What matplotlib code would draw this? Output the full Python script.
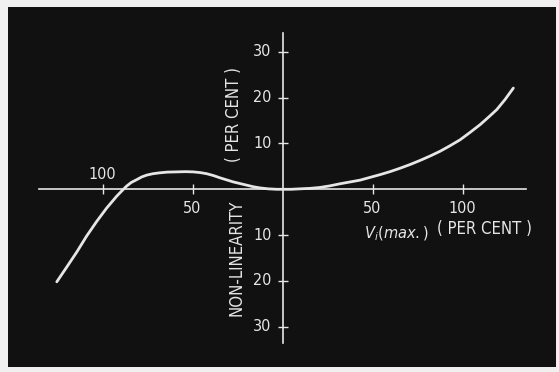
import matplotlib
matplotlib.use("Agg")
import matplotlib.pyplot as plt

# Curve (input in per cent of V_i(max), non-linearity in per cent)
curve_x = [-125.4, -119.9, -114.3, -108.8, -103.2, -97.7, -92.1, -89.4, -86.6,
           -84.0, -81.0, -78.2, -75.4, -72.0, -68.1, -64.0, -58.8, -54.0, -49.6,
           -45.8, -42.1, -38.4, -34.7, -31.0, -27.3, -23.6, -19.9, -16.2, -12.5,
           -8.0, -3.2, 0.0, 4.8, 9.7, 15.2, 20.8, 26.3, 31.9, 37.5, 43.1, 48.6,
           54.2, 59.7, 65.3, 70.8, 76.4, 81.9, 87.5, 93.0, 98.6, 104.1, 109.7,
           114.3, 119.0, 123.6, 128.2]
curve_y = [-20.2, -17.0, -13.7, -10.2, -7.0, -4.1, -1.5, -0.4, 0.7,
           1.5, 2.1, 2.7, 3.1, 3.4, 3.6, 3.75, 3.8, 3.85, 3.8,
           3.65, 3.4, 3.0, 2.5, 2.05, 1.6, 1.25, 0.9, 0.55, 0.3,
           0.1, 0.0, 0.0, 0.0, 0.1, 0.2, 0.4, 0.75, 1.2, 1.6, 2.0, 2.6,
           3.2, 3.85, 4.6, 5.4, 6.3, 7.25, 8.3, 9.5, 10.8, 12.4, 14.1,
           15.7, 17.4, 19.6, 22.1]

y_ticks = [-30, -20, -10, 10, 20, 30]
x_ticks = [-100, -50, 50, 100]
x_label_above = [-100]          # tick labels drawn above the axis

FG = "#e6e6e6"
BG = "#111111"

fig = plt.figure(figsize=(5.59, 3.72), dpi=100, facecolor="#f0f0f0")
W, H = 559, 372
ax = fig.add_axes([8 / W, 5 / H, (556 - 8) / W, (367 - 7) / H])
ax.set_facecolor(BG)
ax.set_xlim(-152.5, 151.9)
ax.set_ylim(-38.8, 39.8)

for s in ["top", "right"]:
    ax.spines[s].set_visible(False)
ax.spines["left"].set_position(("data", 0))
ax.spines["bottom"].set_position(("data", 0))
ax.spines["left"].set_bounds(-33.6, 34.2)
ax.spines["bottom"].set_bounds(-135.3, 135.3)
for s in ["left", "bottom"]:
    ax.spines[s].set_color(FG)
    ax.spines[s].set_linewidth(1.2)

ax.set_yticks(y_ticks)
ax.set_xticks(x_ticks)
ax.tick_params(axis="both", direction="inout", length=7, width=1.0, color=FG,
               labelleft=False, labelbottom=False)

font = dict(color=FG, family="DejaVu Sans", fontstretch="condensed",
            fontsize=11.5)
lab = dict(font, fontsize=12)

for v in y_ticks:
    ax.text(-6.0, v, str(abs(v)), ha="right", va="center", **font)
for v in x_ticks:
    yy = 3.2 if v in x_label_above else -4.2
    ax.text(v, yy, str(abs(v)), ha="center", va="center", **font)

ax.plot(curve_x, curve_y, color=FG, lw=2.0, solid_capstyle="round",
        solid_joinstyle="round")

ax.text(-25.8, -15.0, "NON-LINEARITY", rotation=90, ha="center", va="center",
        **lab)
ax.text(-26.8, 16.3, "( PER CENT )", rotation=90, ha="center", va="center",
        **lab)
ax.text(63, -9.8, r"$V_i(max.)$", ha="center", va="center", color=FG,
        fontsize=10.5)
ax.text(112, -8.6, "( PER CENT )", ha="center", va="center", **lab)

fig.savefig("out.png", dpi=100, facecolor=fig.get_facecolor())
